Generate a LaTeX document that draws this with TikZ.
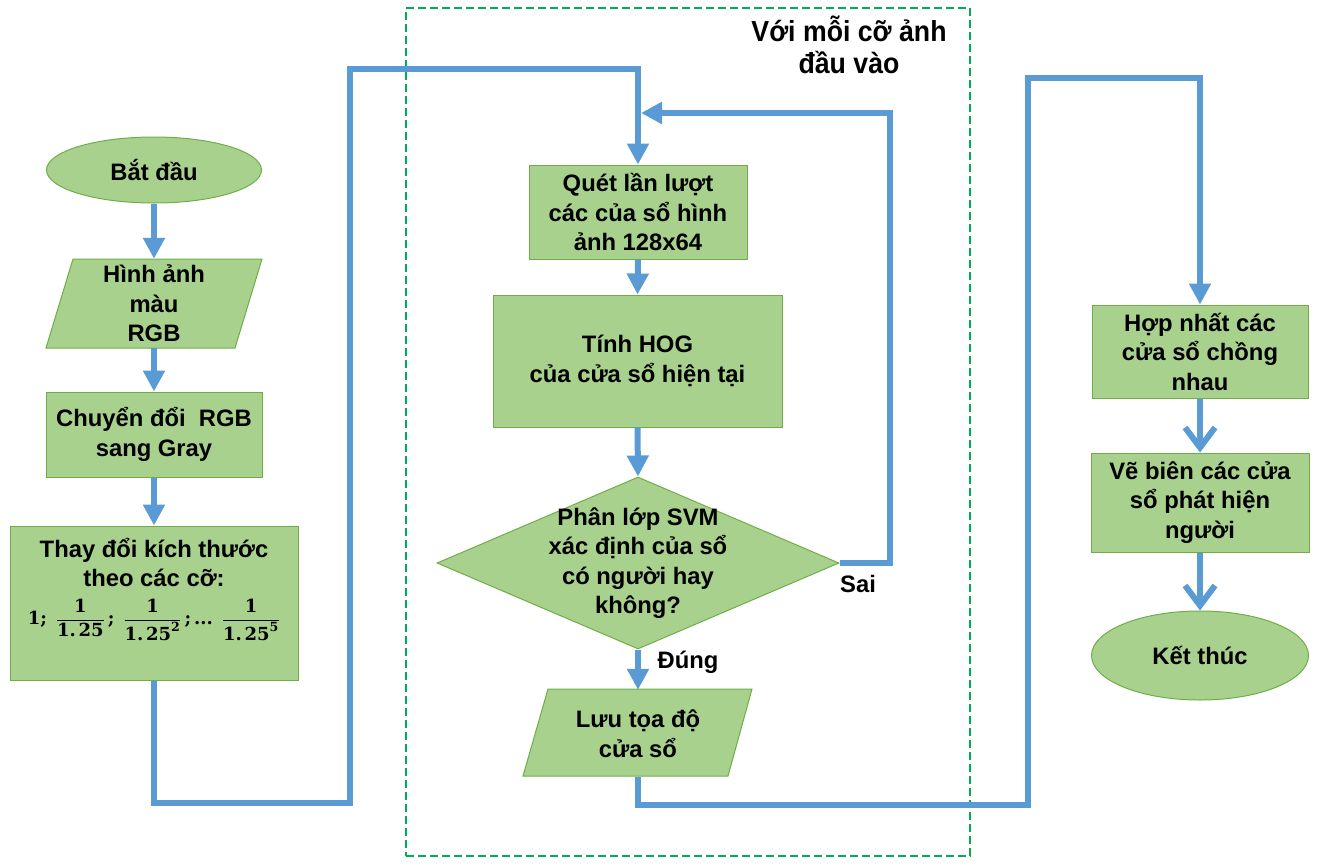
\documentclass[tikz,border=0pt]{standalone}
\usepackage{amsmath}
\usepackage[no-math]{fontspec}
\setmainfont{Liberation Sans}
\newfontfamily\titlefont[FakeStretch=0.92]{Liberation Sans}
\newfontfamily\numf{DejaVu Serif}
\newcommand{\nf}[1]{\text{\numf\bfseries #1}}
\newcommand{\onetf}{\nf{1.\hspace{0.15em}25}}
\usetikzlibrary{shapes.geometric,arrows.meta}
\definecolor{fillg}{HTML}{A9D18E}
\definecolor{bord}{HTML}{70AD47}
\definecolor{arrb}{HTML}{5B9BD5}
\definecolor{dashg}{HTML}{00B050}
\begin{document}
\begin{tikzpicture}[x=1pt,y=-1pt,
  txt/.style={font=\bfseries\fontsize{23.8}{29.5}\selectfont, align=center, text=black, inner sep=0pt},
  box/.style={txt, rectangle, draw=bord, fill=fillg, line width=1pt},
  oval/.style={txt, ellipse, draw=bord, fill=fillg, line width=1pt},
  pshape/.style={draw=bord, fill=fillg, line width=1pt},
  arr/.style={draw=arrb, line width=6pt, -{Triangle[length=21pt,width=21pt]}},
  chev/.style={draw=arrb, line width=6pt, -{Straight Barb[length=20pt,width=30pt]}}]
\useasboundingbox (0,0) rectangle (1317,865);

% frame of the loop
\node[draw=dashg, line width=1.5pt, dash pattern=on 8pt off 4pt, minimum width=564, minimum height=848, inner sep=0pt] (frame) at (688,432) {};
\node[font=\titlefont\bfseries\fontsize{29}{32}\selectfont, align=center, inner sep=0pt] (title) at (849,45) {Với mỗi cỡ ảnh\\đầu vào};

% left column
\node[oval, minimum width=215, minimum height=66] (start) at (154,170) {Bắt đầu};
\filldraw[pshape] (73,259) -- (262,259) -- (235,348) -- (46,348) -- cycle;
\node[txt, minimum height=89] (in1) at (154,303.5) {Hình ảnh\\màu\\RGB};
\node[box, minimum width=216, minimum height=85] (conv) at (154,434.5) {Chuyển đổi\ \ RGB\\sang Gray};
\node[box, minimum width=288, minimum height=154] (resize) at (154,603) {Thay đổi kích thước\\theo các cỡ:\\[8pt]
  {\fontsize{18}{22}\selectfont$\nf{1;}\enspace\dfrac{\nf{1}}{\onetf}\,\nf{;}\enspace\dfrac{\nf{1}}{\onetf^{\nf{2}}}\,\nf{;\,...}\enspace\dfrac{\nf{1}}{\onetf^{\nf{5}}}$}\\[14pt]};

% middle column
\node[box, minimum width=218, minimum height=94] (scan) at (638,212) {Quét lần lượt\\các của sổ hình\\ảnh 128x64};
\node[box, minimum width=289, minimum height=132] (hog) at (637.5,361) {Tính HOG\\của cửa sổ hiện tại};
\node[diamond, draw=bord, fill=fillg, line width=1pt, minimum width=402, minimum height=172, inner sep=0pt,
  label={[txt]center:{Phân lớp SVM\\xác định của sổ\\có người hay\\không?}}] (dec) at (638,563) {};
\filldraw[pshape] (548,689) -- (752,689) -- (728,776) -- (523,776) -- cycle;
\node[txt, minimum height=87] (save) at (638,733.5) {Lưu tọa độ\\cửa sổ};
\node[txt] (yes) at (688,662) {Đúng};
\node[txt] (no) at (858,584) {Sai};

% right column
\node[box, minimum width=216, minimum height=93] (merge) at (1200,351.5) {Hợp nhất các\\cửa sổ chồng\\nhau};
\node[box, minimum width=218, minimum height=99] (drawb) at (1200,502.5) {Vẽ biên các cửa\\sổ phát hiện\\người};
\node[oval, minimum width=217, minimum height=89] (end) at (1200,655.5) {Kết thúc};

% bend points
\coordinate (l1) at (350,803);
\coordinate (l2) at (350,69);
\coordinate (s2) at (890,113);
\coordinate (fb) at (641,113);
\coordinate (r1) at (1028,805);
\coordinate (r2) at (1028,78);

% connectors
\draw[arr] (start.south) -- (in1.north);
\draw[arr] (in1.south) -- (conv.north);
\draw[arr] (conv.south) -- (resize.north);
\draw[arr] (resize.south) |- (l1) -- (l2) -| (scan.north);
\draw[arr] (scan.south) -- (hog.north);
\draw[arr] (hog.south) -- (dec.north);
\draw[arr] (dec.south) -- (save.north);
\draw[arr] (dec.east) -| (s2) -- (fb);
\draw[arr] (save.south) |- (r1) -- (r2) -| (merge.north);
\draw[chev] (merge.south) -- (drawb.north);
\draw[chev] (drawb.south) -- (end.north);
\end{tikzpicture}
\end{document}
